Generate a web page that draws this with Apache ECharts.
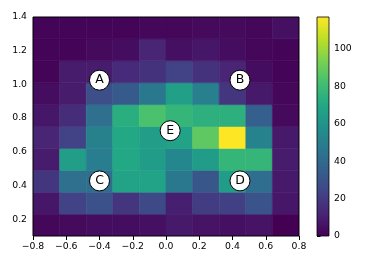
<!DOCTYPE html>
<html>
<head>
<meta charset="utf-8">
<script src="https://cdn.jsdelivr.net/npm/echarts@6/dist/echarts.min.js"></script>
<style>html,body{margin:0;padding:0;background:#fff}#c{width:381px;height:271px}</style>
</head>
<body>
<div id="c"></div>
<script>
// bin left edges (x) and bottom edges (y)
var xBins = [-0.8, -0.64, -0.48, -0.32, -0.16, 0.0, 0.16, 0.32, 0.48, 0.64];
var yBins = [0.10, 0.23, 0.36, 0.49, 0.62, 0.75, 0.88, 1.01, 1.14, 1.27];
var binW = 0.16, binH = 0.13;
// counts, rows from bottom (y=0.10) to top (y=1.27)
var row0 = [2, 3, 4, 4, 5, 8, 6, 5, 6, 0];
var row1 = [7, 23, 29, 18, 26, 10, 21, 22, 30, 7];
var row2 = [18, 43, 42, 67, 67, 47, 31, 64, 42, 8];
var row3 = [9, 65, 49, 70, 64, 54, 64, 77, 77, 9];
var row4 = [12, 23, 51, 70, 65, 67, 88, 117, 52, 8];
var row5 = [7, 15, 43, 73, 83, 77, 74, 74, 35, 3];
var row6 = [4, 9, 28, 33, 47, 66, 50, 18, 8, 2];
var row7 = [1, 9, 9, 14, 17, 23, 17, 12, 4, 1];
var row8 = [1, 1, 3, 4, 12, 5, 7, 4, 2, 1];
var row9 = [1, 1, 1, 1, 2, 2, 3, 3, 2, 5];
var counts = [row0, row1, row2, row3, row4, row5, row6, row7, row8, row9];
var cMin = 0, cMax = 117;
var cbTicks = [0, 20, 40, 60, 80, 100];
var xTicks = [-0.8, -0.6, -0.4, -0.2, 0.0, 0.2, 0.4, 0.6, 0.8];
var yTicks = [0.2, 0.4, 0.6, 0.8, 1.0, 1.2, 1.4];
// annotation markers
var markNames = ['A', 'B', 'C', 'D', 'E'];
var markX = [-0.4, 0.445, -0.4, 0.445, 0.025];
var markY = [1.025, 1.025, 0.427, 0.427, 0.725];

var viridis = ['#440154','#482475','#414487','#355f8d','#2a788e','#21918c','#22a884','#44bf70','#7ad151','#bddf26','#fde725'];

var cells = [];
for (var r = 0; r < yBins.length; r++) {
  for (var c = 0; c < xBins.length; c++) {
    cells.push([xBins[c], yBins[r], counts[r][c]]);
  }
}
var marks = markNames.map(function (n, i) { return { name: n, value: [markX[i], markY[i]] }; });

var font = 'DejaVu Sans';
var fs = 9.3;
function fmt(v) { var s = Math.abs(v).toFixed(1); return (v < -1e-9 ? '\u2212' : '') + s; }

var chart = echarts.init(document.getElementById('c'), null, { renderer: 'canvas' });
chart.setOption({
  animation: false,
  backgroundColor: '#fff',
  grid: [
    { left: 33, top: 17, width: 266, height: 219, show: true, borderColor: '#000', borderWidth: 1, backgroundColor: 'transparent', z: 10 },
    { left: 317, top: 17, width: 12, height: 219, show: true, borderColor: '#000', borderWidth: 0.8, backgroundColor: 'transparent', z: 10 }
  ],
  xAxis: [
    { type: 'value', gridIndex: 0, min: -0.8, max: 0.8, interval: 0.2,
      axisLine: { show: false }, splitLine: { show: false },
      axisTick: { show: true, inside: false, length: 4, lineStyle: { color: '#000', width: 1 } },
      axisLabel: { margin: 6, color: '#000', fontFamily: font, fontSize: fs, formatter: fmt, showMinLabel: true, showMaxLabel: true } },
    { type: 'value', gridIndex: 1, min: 0, max: 1, show: false }
  ],
  yAxis: [
    { type: 'value', gridIndex: 0, min: 0.1, max: 1.4,
      axisLine: { show: false }, splitLine: { show: false },
      axisTick: { show: true, inside: false, length: 4, customValues: yTicks, lineStyle: { color: '#000', width: 1 } },
      axisLabel: { margin: 6, color: '#000', fontFamily: font, fontSize: fs, customValues: yTicks, formatter: fmt } },
    { type: 'value', gridIndex: 1, min: cMin, max: cMax, position: 'right',
      axisLine: { show: false }, splitLine: { show: false },
      axisTick: { show: true, inside: false, length: 3.5, customValues: cbTicks, lineStyle: { color: '#000', width: 1 } },
      axisLabel: { margin: 5, color: '#000', fontFamily: font, fontSize: fs, customValues: cbTicks } }
  ],
  visualMap: {
    type: 'continuous', show: false, min: cMin, max: cMax, dimension: 2, seriesIndex: 0,
    inRange: { color: viridis }
  },
  series: [
    {
      type: 'custom', xAxisIndex: 0, yAxisIndex: 0, clip: true,
      data: cells,
      encode: { x: 0, y: 1 },
      renderItem: function (params, api) {
        var x0 = api.value(0), y0 = api.value(1);
        var p0 = api.coord([x0, y0 + binH]);
        var p1 = api.coord([x0 + binW, y0]);
        var col = api.visual('color');
        return { type: 'rect',
          shape: { x: p0[0], y: p0[1], width: p1[0] - p0[0], height: p1[1] - p0[1] },
          style: { fill: col, stroke: col, lineWidth: 0.6 } };
      }
    },
    {
      type: 'scatter', xAxisIndex: 0, yAxisIndex: 0, z: 20,
      data: marks, symbol: 'circle', symbolSize: 20,
      itemStyle: { color: '#fff', borderColor: '#000', borderWidth: 1, opacity: 1 },
      emphasis: { disabled: true },
      label: { show: true, position: 'inside', formatter: '{b}', color: '#000', fontFamily: font, fontSize: 12.5 }
    },
    {
      type: 'custom', xAxisIndex: 1, yAxisIndex: 1,
      data: [[0, cMin, 1, cMax]],
      renderItem: function (params, api) {
        var p0 = api.coord([api.value(0), api.value(3)]);
        var p1 = api.coord([api.value(2), api.value(1)]);
        var stops = viridis.map(function (c, i) { return { offset: i / (viridis.length - 1), color: c }; });
        return { type: 'rect',
          shape: { x: p0[0], y: p0[1], width: p1[0] - p0[0], height: p1[1] - p0[1] },
          style: { fill: new echarts.graphic.LinearGradient(0, 1, 0, 0, stops) } };
      }
    }
  ]
});
</script>
</body>
</html>
